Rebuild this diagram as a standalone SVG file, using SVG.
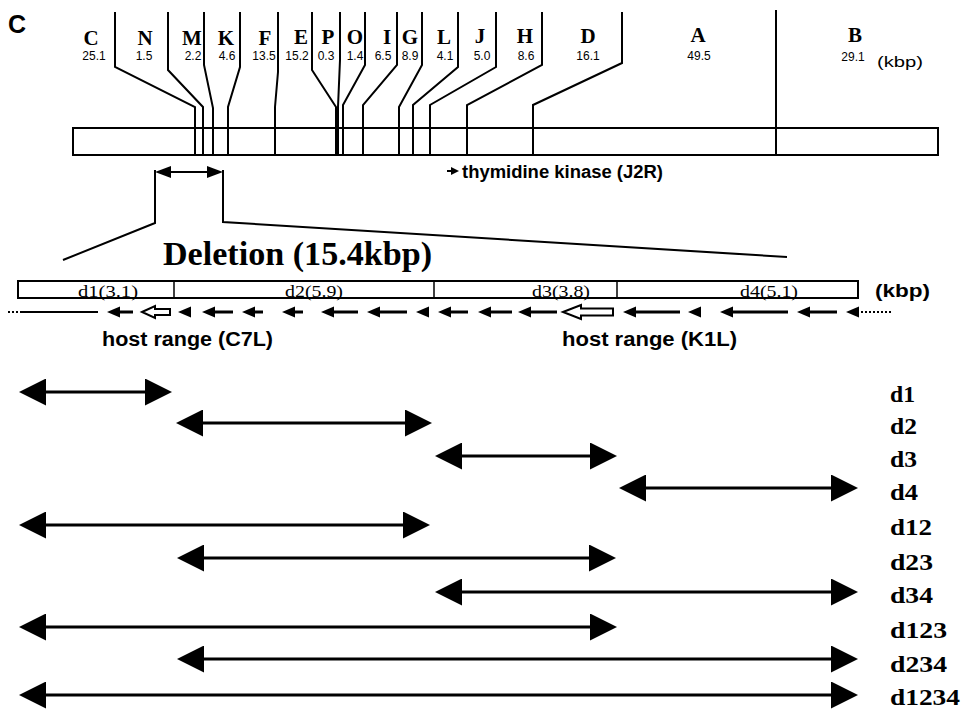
<svg xmlns="http://www.w3.org/2000/svg" xmlns:xlink="http://www.w3.org/1999/xlink" width="965" height="709" viewBox="0 0 965 709">
<style>
  .ln { fill: none; stroke: #000; stroke-width: 2; stroke-linejoin: miter; }
  .box { fill: #fff; stroke: #000; stroke-width: 2; }
  .thin { fill: none; stroke: #000; stroke-width: 1.5; }
  .seg { font-family: "Liberation Serif", "Times New Roman", serif; font-weight: bold; font-size: 21px; text-anchor: middle; }
  .num { font-family: "Liberation Sans", Arial, sans-serif; font-size: 12px; text-anchor: middle; }
  .sans { font-family: "Liberation Sans", Arial, sans-serif; font-weight: bold; }
  .dlab { font-family: "Liberation Serif", "Times New Roman", serif; font-size: 17px; text-anchor: middle; }
  .clab { font-family: "Liberation Serif", "Times New Roman", serif; font-weight: bold; font-size: 24px; }
  .shaft { stroke: #000; stroke-width: 3; fill: none; }
  .big { stroke: #000; stroke-width: 3; fill: none; marker-start: url(#dh); marker-end: url(#dh); }
</style>
<defs>
  <marker id="dh" viewBox="0 0 27 27" refX="7" refY="13.5" markerWidth="27" markerHeight="27" markerUnits="userSpaceOnUse" orient="auto-start-reverse">
    <path d="M0,0 L27,13.5 L0,27 z" fill="#000"/>
  </marker>
  <marker id="sh" viewBox="0 0 16 12" refX="4" refY="6" markerWidth="16" markerHeight="12" markerUnits="userSpaceOnUse" orient="auto-start-reverse">
    <path d="M0,0 L16,6 L0,12 z" fill="#000"/>
  </marker>
  <path id="lh" d="M0,0 L13,-5.5 L13,5.5 z" fill="#000"/>
</defs>
<rect width="965" height="709" fill="#fff"/>

<text x="8" y="33" class="sans" font-size="25">C</text>

<g id="genome-map">
  <rect class="box" x="73" y="128" width="865" height="27"/>
</g>

<g id="segment-labels">
  <text class="seg" x="91" y="45">C</text><text class="num" x="94" y="60">25.1</text>
  <text class="seg" x="145" y="45">N</text><text class="num" x="144" y="60">1.5</text>
  <text class="seg" x="192" y="45">M</text><text class="num" x="193" y="60">2.2</text>
  <text class="seg" x="226" y="45">K</text><text class="num" x="227" y="60">4.6</text>
  <text class="seg" x="265" y="45">F</text><text class="num" x="264" y="60">13.5</text>
  <text class="seg" x="301" y="44">E</text><text class="num" x="297" y="60">15.2</text>
  <text class="seg" x="328" y="44">P</text><text class="num" x="326" y="60">0.3</text>
  <text class="seg" x="355" y="44">O</text><text class="num" x="355" y="60">1.4</text>
  <text class="seg" x="387" y="44">I</text><text class="num" x="383" y="60">6.5</text>
  <text class="seg" x="410" y="44">G</text><text class="num" x="410" y="60">8.9</text>
  <text class="seg" x="444" y="44">L</text><text class="num" x="445" y="60">4.1</text>
  <text class="seg" x="480" y="43">J</text><text class="num" x="482" y="60">5.0</text>
  <text class="seg" x="525" y="43">H</text><text class="num" x="526" y="60">8.6</text>
  <text class="seg" x="588" y="43">D</text><text class="num" x="588" y="60">16.1</text>
  <text class="seg" x="698" y="42">A</text><text class="num" x="699" y="60">49.5</text>
  <text class="seg" x="855" y="42">B</text><text class="num" x="853" y="61">29.1</text>
  <text x="877" y="67" font-family="Liberation Sans, Arial, sans-serif" font-size="14" textLength="46" lengthAdjust="spacingAndGlyphs">(kbp)</text>
</g>

<g id="connectors">
  <polyline class="ln" points="115,12 115,67 195,107 195,155"/>
  <polyline class="ln" points="168,12 168,70 203,107 203,155"/>
  <polyline class="ln" points="204,12 204,65 213,108 213,155"/>
  <polyline class="ln" points="240,12 240,67 228,107 228,155"/>
  <polyline class="ln" points="278,12 278,72 275,107 275,155"/>
  <polyline class="ln" points="312,12 312,70 336,107 336,155"/>
  <polyline class="ln" points="340,12 340,60 338,107 338,155"/>
  <polyline class="ln" points="365,12 365,65 343,105 343,155"/>
  <polyline class="ln" points="397,12 397,65 363,105 363,155"/>
  <polyline class="ln" points="422,12 422,65 399,107 399,155"/>
  <polyline class="ln" points="458,12 458,67 413,105 413,155"/>
  <polyline class="ln" points="496,12 496,67 430,105 430,155"/>
  <polyline class="ln" points="542,12 542,65 467,105 467,155"/>
  <polyline class="ln" points="622,12 622,63 533,105 533,155"/>
  <polyline class="ln" points="776,10 776,155"/>
  <line x1="167" y1="172" x2="211" y2="172" stroke="#000" stroke-width="2" marker-start="url(#sh)" marker-end="url(#sh)"/>
  <polyline class="ln" points="155,170 155,223 63,260"/>
  <polyline class="ln" points="223,170 223,222 787,257"/>
</g>

<g id="tk-label">
  <line x1="447" y1="171" x2="452" y2="171" stroke="#000" stroke-width="2"/>
  <path d="M451,167 L459,171 L451,175 z" fill="#000"/>
  <text x="462" y="178" class="sans" font-size="18" textLength="201" lengthAdjust="spacingAndGlyphs">thymidine kinase (J2R)</text>
</g>

<text x="163" y="265" font-family="Liberation Serif, Times New Roman, serif" font-weight="bold" font-size="33" textLength="269" lengthAdjust="spacingAndGlyphs">Deletion (15.4kbp)</text>

<g id="deletion-bar">
  <rect class="box" x="18" y="281" width="840" height="17" stroke-width="1.8"/>
  <line class="thin" x1="174" y1="281" x2="174" y2="298"/>
  <line class="thin" x1="434" y1="281" x2="434" y2="298"/>
  <line class="thin" x1="617" y1="281" x2="617" y2="298"/>
  <text class="dlab" x="108" y="297" textLength="60" lengthAdjust="spacingAndGlyphs">d1(3.1)</text>
  <text class="dlab" x="314" y="297" textLength="58" lengthAdjust="spacingAndGlyphs">d2(5.9)</text>
  <text class="dlab" x="561" y="297" textLength="58" lengthAdjust="spacingAndGlyphs">d3(3.8)</text>
  <text class="dlab" x="769" y="297" textLength="58" lengthAdjust="spacingAndGlyphs">d4(5.1)</text>
  <text x="875" y="297" class="sans" font-size="19" textLength="55" lengthAdjust="spacingAndGlyphs">(kbp)</text>
</g>

<g id="gene-arrows">
  <line x1="8" y1="312" x2="19" y2="312" stroke="#000" stroke-width="2" stroke-dasharray="2 2"/>
  <line x1="20" y1="312" x2="98" y2="312" stroke="#000" stroke-width="2"/>
  <use xlink:href="#lh" x="107" y="312"/><line class="shaft" x1="119" y1="312" x2="133" y2="312"/>
  <path d="M142,312 L155,306 L155,309 L170,309 L170,315 L155,315 L155,318 z" fill="#fff" stroke="#000" stroke-width="2"/>
  <use xlink:href="#lh" x="178" y="312"/>
  <use xlink:href="#lh" x="202" y="312"/><line class="shaft" x1="214" y1="312" x2="233" y2="312"/>
  <use xlink:href="#lh" x="242" y="312"/><line class="shaft" x1="254" y1="312" x2="263" y2="312"/>
  <use xlink:href="#lh" x="282" y="312"/><line class="shaft" x1="294" y1="312" x2="303" y2="312"/>
  <use xlink:href="#lh" x="321" y="312"/><line class="shaft" x1="333" y1="312" x2="358" y2="312"/>
  <use xlink:href="#lh" x="367" y="312"/><line class="shaft" x1="379" y1="312" x2="407" y2="312"/>
  <use xlink:href="#lh" x="416" y="312"/>
  <use xlink:href="#lh" x="438" y="312"/><line class="shaft" x1="450" y1="312" x2="468" y2="312"/>
  <use xlink:href="#lh" x="478" y="312"/><line class="shaft" x1="490" y1="312" x2="512" y2="312"/>
  <use xlink:href="#lh" x="518" y="312"/><line class="shaft" x1="530" y1="312" x2="557" y2="312"/>
  <path d="M563,312 L581,305 L581,308.5 L613,308.5 L613,315.5 L581,315.5 L581,319 z" fill="#fff" stroke="#000" stroke-width="2"/>
  <use xlink:href="#lh" x="623" y="312"/><line class="shaft" x1="635" y1="312" x2="680" y2="312"/>
  <use xlink:href="#lh" x="688" y="312"/>
  <use xlink:href="#lh" x="720" y="312"/><line class="shaft" x1="732" y1="312" x2="788" y2="312"/>
  <use xlink:href="#lh" x="797" y="312"/><line class="shaft" x1="809" y1="312" x2="837" y2="312"/>
  <use xlink:href="#lh" x="846" y="312"/>
  <line x1="861" y1="312" x2="893" y2="312" stroke="#000" stroke-width="2" stroke-dasharray="2 2"/>
  <text x="102" y="346" class="sans" font-size="20" textLength="171" lengthAdjust="spacingAndGlyphs">host range (C7L)</text>
  <text x="562" y="346" class="sans" font-size="20" textLength="175" lengthAdjust="spacingAndGlyphs">host range (K1L)</text>
</g>

<g id="deletion-constructs">
  <g id="c-d1"><line class="big" x1="39" y1="392" x2="152" y2="392"/><text class="clab" x="890" y="402" textLength="25" lengthAdjust="spacingAndGlyphs">d1</text></g>
  <g id="c-d2"><line class="big" x1="196" y1="423" x2="412" y2="423"/><text class="clab" x="890" y="434" textLength="27" lengthAdjust="spacingAndGlyphs">d2</text></g>
  <g id="c-d3"><line class="big" x1="455" y1="456" x2="597" y2="456"/><text class="clab" x="890" y="467" textLength="27" lengthAdjust="spacingAndGlyphs">d3</text></g>
  <g id="c-d4"><line class="big" x1="639" y1="488" x2="838" y2="488"/><text class="clab" x="890" y="500" textLength="28" lengthAdjust="spacingAndGlyphs">d4</text></g>
  <g id="c-d12"><line class="big" x1="39" y1="525" x2="410" y2="525"/><text class="clab" x="890" y="535" textLength="42" lengthAdjust="spacingAndGlyphs">d12</text></g>
  <g id="c-d23"><line class="big" x1="197" y1="558" x2="596" y2="558"/><text class="clab" x="890" y="570" textLength="43" lengthAdjust="spacingAndGlyphs">d23</text></g>
  <g id="c-d34"><line class="big" x1="455" y1="592" x2="838" y2="592"/><text class="clab" x="890" y="603" textLength="43" lengthAdjust="spacingAndGlyphs">d34</text></g>
  <g id="c-d123"><line class="big" x1="39" y1="627" x2="597" y2="627"/><text class="clab" x="890" y="638" textLength="57" lengthAdjust="spacingAndGlyphs">d123</text></g>
  <g id="c-d234"><line class="big" x1="197" y1="659" x2="838" y2="659"/><text class="clab" x="890" y="672" textLength="57" lengthAdjust="spacingAndGlyphs">d234</text></g>
  <g id="c-d1234"><line class="big" x1="39" y1="695" x2="838" y2="695"/><text class="clab" x="890" y="705" textLength="70" lengthAdjust="spacingAndGlyphs">d1234</text></g>
</g>
</svg>
